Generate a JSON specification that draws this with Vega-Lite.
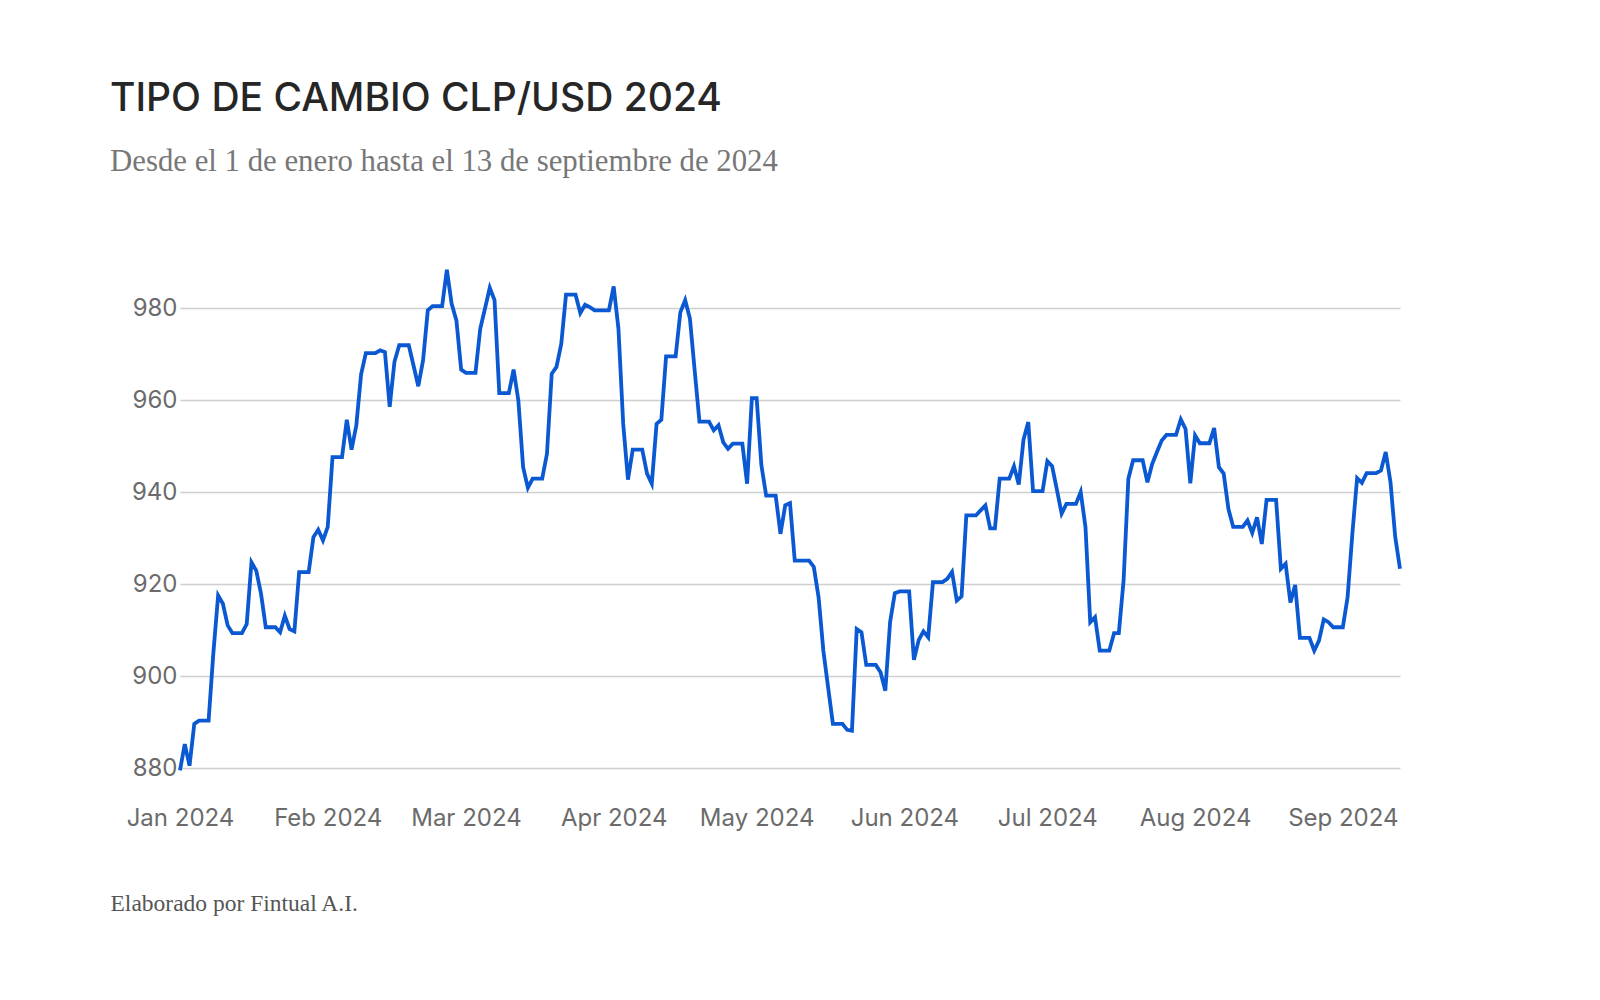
{
  "$schema": "https://vega.github.io/schema/vega-lite/v6.json",
  "width": 1220,
  "height": 506,
  "autosize": {"type": "none"},
  "padding": {"left": 180, "top": 262, "right": 200, "bottom": 232},
  "background": "#FFFFFF",
  "title": {
    "text": "TIPO DE CAMBIO CLP/USD 2024",
    "subtitle": "Desde el 1 de enero hasta el 13 de septiembre de 2024",
    "anchor": "start",
    "frame": "group",
    "dx": -70,
    "offset": 85,
    "font": "Inter",
    "fontSize": 39,
    "fontWeight": 500,
    "color": "#262626",
    "subtitleFont": "Liberation Serif",
    "subtitleFontSize": 30.8,
    "subtitleColor": "#777777",
    "subtitlePadding": 28
  },
  "data": {
    "values": [
      {"date": "2024-01-01", "rate": 879.5}, {"date": "2024-01-02", "rate": 885.2}, {"date": "2024-01-03", "rate": 880.5},
      {"date": "2024-01-04", "rate": 889.6}, {"date": "2024-01-05", "rate": 890.3}, {"date": "2024-01-06", "rate": 890.3},
      {"date": "2024-01-07", "rate": 890.3}, {"date": "2024-01-08", "rate": 905.0}, {"date": "2024-01-09", "rate": 917.5},
      {"date": "2024-01-10", "rate": 915.7}, {"date": "2024-01-11", "rate": 911.0}, {"date": "2024-01-12", "rate": 909.3},
      {"date": "2024-01-13", "rate": 909.3}, {"date": "2024-01-14", "rate": 909.3}, {"date": "2024-01-15", "rate": 911.3},
      {"date": "2024-01-16", "rate": 924.7}, {"date": "2024-01-17", "rate": 922.9}, {"date": "2024-01-18", "rate": 917.9},
      {"date": "2024-01-19", "rate": 910.6}, {"date": "2024-01-20", "rate": 910.6}, {"date": "2024-01-21", "rate": 910.6},
      {"date": "2024-01-22", "rate": 909.5}, {"date": "2024-01-23", "rate": 913.1}, {"date": "2024-01-24", "rate": 910.2},
      {"date": "2024-01-25", "rate": 909.7}, {"date": "2024-01-26", "rate": 922.6}, {"date": "2024-01-27", "rate": 922.6},
      {"date": "2024-01-28", "rate": 922.6}, {"date": "2024-01-29", "rate": 930.2}, {"date": "2024-01-30", "rate": 931.8},
      {"date": "2024-01-31", "rate": 929.5},
      {"date": "2024-02-01", "rate": 932.4}, {"date": "2024-02-02", "rate": 947.6}, {"date": "2024-02-03", "rate": 947.6},
      {"date": "2024-02-04", "rate": 947.6}, {"date": "2024-02-05", "rate": 955.7}, {"date": "2024-02-06", "rate": 949.2},
      {"date": "2024-02-07", "rate": 954.5}, {"date": "2024-02-08", "rate": 965.6}, {"date": "2024-02-09", "rate": 970.2},
      {"date": "2024-02-10", "rate": 970.2}, {"date": "2024-02-11", "rate": 970.2}, {"date": "2024-02-12", "rate": 970.8},
      {"date": "2024-02-13", "rate": 970.4}, {"date": "2024-02-14", "rate": 958.5}, {"date": "2024-02-15", "rate": 968.3},
      {"date": "2024-02-16", "rate": 971.9}, {"date": "2024-02-17", "rate": 971.9}, {"date": "2024-02-18", "rate": 971.9},
      {"date": "2024-02-19", "rate": 967.5}, {"date": "2024-02-20", "rate": 963.0}, {"date": "2024-02-21", "rate": 968.6},
      {"date": "2024-02-22", "rate": 979.5}, {"date": "2024-02-23", "rate": 980.4}, {"date": "2024-02-24", "rate": 980.4},
      {"date": "2024-02-25", "rate": 980.4}, {"date": "2024-02-26", "rate": 988.3}, {"date": "2024-02-27", "rate": 980.9},
      {"date": "2024-02-28", "rate": 977.3}, {"date": "2024-02-29", "rate": 966.6},
      {"date": "2024-03-01", "rate": 965.9}, {"date": "2024-03-02", "rate": 965.9}, {"date": "2024-03-03", "rate": 965.9},
      {"date": "2024-03-04", "rate": 975.5}, {"date": "2024-03-05", "rate": 979.9}, {"date": "2024-03-06", "rate": 984.4},
      {"date": "2024-03-07", "rate": 981.7}, {"date": "2024-03-08", "rate": 961.5}, {"date": "2024-03-09", "rate": 961.5},
      {"date": "2024-03-10", "rate": 961.5}, {"date": "2024-03-11", "rate": 966.6}, {"date": "2024-03-12", "rate": 959.9},
      {"date": "2024-03-13", "rate": 945.4}, {"date": "2024-03-14", "rate": 940.9}, {"date": "2024-03-15", "rate": 942.9},
      {"date": "2024-03-16", "rate": 942.9}, {"date": "2024-03-17", "rate": 942.9}, {"date": "2024-03-18", "rate": 948.3},
      {"date": "2024-03-19", "rate": 965.7}, {"date": "2024-03-20", "rate": 967.2}, {"date": "2024-03-21", "rate": 972.2},
      {"date": "2024-03-22", "rate": 982.9}, {"date": "2024-03-23", "rate": 982.9}, {"date": "2024-03-24", "rate": 982.9},
      {"date": "2024-03-25", "rate": 978.9}, {"date": "2024-03-26", "rate": 980.7}, {"date": "2024-03-27", "rate": 980.2},
      {"date": "2024-03-28", "rate": 979.5}, {"date": "2024-03-29", "rate": 979.5}, {"date": "2024-03-30", "rate": 979.5},
      {"date": "2024-03-31", "rate": 979.5},
      {"date": "2024-04-01", "rate": 984.7}, {"date": "2024-04-02", "rate": 975.5}, {"date": "2024-04-03", "rate": 954.8},
      {"date": "2024-04-04", "rate": 942.7}, {"date": "2024-04-05", "rate": 949.2}, {"date": "2024-04-06", "rate": 949.2},
      {"date": "2024-04-07", "rate": 949.2}, {"date": "2024-04-08", "rate": 944.0}, {"date": "2024-04-09", "rate": 941.8},
      {"date": "2024-04-10", "rate": 954.8}, {"date": "2024-04-11", "rate": 955.7}, {"date": "2024-04-12", "rate": 969.5},
      {"date": "2024-04-13", "rate": 969.5}, {"date": "2024-04-14", "rate": 969.5}, {"date": "2024-04-15", "rate": 979.1},
      {"date": "2024-04-16", "rate": 981.7}, {"date": "2024-04-17", "rate": 977.7}, {"date": "2024-04-18", "rate": 966.4},
      {"date": "2024-04-19", "rate": 955.3}, {"date": "2024-04-20", "rate": 955.3}, {"date": "2024-04-21", "rate": 955.3},
      {"date": "2024-04-22", "rate": 953.4}, {"date": "2024-04-23", "rate": 954.5}, {"date": "2024-04-24", "rate": 950.8},
      {"date": "2024-04-25", "rate": 949.4}, {"date": "2024-04-26", "rate": 950.5}, {"date": "2024-04-27", "rate": 950.5},
      {"date": "2024-04-28", "rate": 950.5}, {"date": "2024-04-29", "rate": 941.8}, {"date": "2024-04-30", "rate": 960.4},
      {"date": "2024-05-01", "rate": 960.4}, {"date": "2024-05-02", "rate": 945.8}, {"date": "2024-05-03", "rate": 939.2},
      {"date": "2024-05-04", "rate": 939.2}, {"date": "2024-05-05", "rate": 939.2}, {"date": "2024-05-06", "rate": 930.9},
      {"date": "2024-05-07", "rate": 937.1}, {"date": "2024-05-08", "rate": 937.6}, {"date": "2024-05-09", "rate": 925.1},
      {"date": "2024-05-10", "rate": 925.1}, {"date": "2024-05-11", "rate": 925.1}, {"date": "2024-05-12", "rate": 925.1},
      {"date": "2024-05-13", "rate": 923.7}, {"date": "2024-05-14", "rate": 917.1}, {"date": "2024-05-15", "rate": 905.5},
      {"date": "2024-05-16", "rate": 897.5}, {"date": "2024-05-17", "rate": 889.6}, {"date": "2024-05-18", "rate": 889.6},
      {"date": "2024-05-19", "rate": 889.6}, {"date": "2024-05-20", "rate": 888.3}, {"date": "2024-05-21", "rate": 888.1},
      {"date": "2024-05-22", "rate": 910.2}, {"date": "2024-05-23", "rate": 909.5}, {"date": "2024-05-24", "rate": 902.4},
      {"date": "2024-05-25", "rate": 902.4}, {"date": "2024-05-26", "rate": 902.4}, {"date": "2024-05-27", "rate": 900.8},
      {"date": "2024-05-28", "rate": 896.8}, {"date": "2024-05-29", "rate": 911.7}, {"date": "2024-05-30", "rate": 918.0},
      {"date": "2024-05-31", "rate": 918.4},
      {"date": "2024-06-01", "rate": 918.4}, {"date": "2024-06-02", "rate": 918.4}, {"date": "2024-06-03", "rate": 903.5},
      {"date": "2024-06-04", "rate": 907.8}, {"date": "2024-06-05", "rate": 909.7}, {"date": "2024-06-06", "rate": 908.4},
      {"date": "2024-06-07", "rate": 920.4}, {"date": "2024-06-08", "rate": 920.4}, {"date": "2024-06-09", "rate": 920.4},
      {"date": "2024-06-10", "rate": 921.1}, {"date": "2024-06-11", "rate": 922.6}, {"date": "2024-06-12", "rate": 916.4},
      {"date": "2024-06-13", "rate": 917.3}, {"date": "2024-06-14", "rate": 934.9}, {"date": "2024-06-15", "rate": 934.9},
      {"date": "2024-06-16", "rate": 934.9}, {"date": "2024-06-17", "rate": 936.0}, {"date": "2024-06-18", "rate": 937.1},
      {"date": "2024-06-19", "rate": 932.1}, {"date": "2024-06-20", "rate": 932.1}, {"date": "2024-06-21", "rate": 942.9},
      {"date": "2024-06-22", "rate": 942.9}, {"date": "2024-06-23", "rate": 942.9}, {"date": "2024-06-24", "rate": 945.6},
      {"date": "2024-06-25", "rate": 941.6}, {"date": "2024-06-26", "rate": 951.4}, {"date": "2024-06-27", "rate": 955.2},
      {"date": "2024-06-28", "rate": 940.2}, {"date": "2024-06-29", "rate": 940.2}, {"date": "2024-06-30", "rate": 940.2},
      {"date": "2024-07-01", "rate": 946.7}, {"date": "2024-07-02", "rate": 945.6}, {"date": "2024-07-03", "rate": 940.5},
      {"date": "2024-07-04", "rate": 935.3}, {"date": "2024-07-05", "rate": 937.4}, {"date": "2024-07-06", "rate": 937.4},
      {"date": "2024-07-07", "rate": 937.4}, {"date": "2024-07-08", "rate": 940.0}, {"date": "2024-07-09", "rate": 932.4},
      {"date": "2024-07-10", "rate": 911.7}, {"date": "2024-07-11", "rate": 912.8}, {"date": "2024-07-12", "rate": 905.5},
      {"date": "2024-07-13", "rate": 905.5}, {"date": "2024-07-14", "rate": 905.5}, {"date": "2024-07-15", "rate": 909.3},
      {"date": "2024-07-16", "rate": 909.3}, {"date": "2024-07-17", "rate": 920.8}, {"date": "2024-07-18", "rate": 942.9},
      {"date": "2024-07-19", "rate": 946.9}, {"date": "2024-07-20", "rate": 946.9}, {"date": "2024-07-21", "rate": 946.9},
      {"date": "2024-07-22", "rate": 942.1}, {"date": "2024-07-23", "rate": 946.1}, {"date": "2024-07-24", "rate": 948.7},
      {"date": "2024-07-25", "rate": 951.2}, {"date": "2024-07-26", "rate": 952.4}, {"date": "2024-07-27", "rate": 952.4},
      {"date": "2024-07-28", "rate": 952.4}, {"date": "2024-07-29", "rate": 955.8}, {"date": "2024-07-30", "rate": 953.7},
      {"date": "2024-07-31", "rate": 941.9},
      {"date": "2024-08-01", "rate": 952.3}, {"date": "2024-08-02", "rate": 950.6}, {"date": "2024-08-03", "rate": 950.6},
      {"date": "2024-08-04", "rate": 950.6}, {"date": "2024-08-05", "rate": 953.9}, {"date": "2024-08-06", "rate": 945.4},
      {"date": "2024-08-07", "rate": 944.0}, {"date": "2024-08-08", "rate": 936.3}, {"date": "2024-08-09", "rate": 932.4},
      {"date": "2024-08-10", "rate": 932.4}, {"date": "2024-08-11", "rate": 932.4}, {"date": "2024-08-12", "rate": 933.8},
      {"date": "2024-08-13", "rate": 931.1}, {"date": "2024-08-14", "rate": 934.5}, {"date": "2024-08-15", "rate": 928.7},
      {"date": "2024-08-16", "rate": 938.3}, {"date": "2024-08-17", "rate": 938.3}, {"date": "2024-08-18", "rate": 938.3},
      {"date": "2024-08-19", "rate": 923.3}, {"date": "2024-08-20", "rate": 924.4}, {"date": "2024-08-21", "rate": 916.0},
      {"date": "2024-08-22", "rate": 919.8}, {"date": "2024-08-23", "rate": 908.3}, {"date": "2024-08-24", "rate": 908.3},
      {"date": "2024-08-25", "rate": 908.3}, {"date": "2024-08-26", "rate": 905.5}, {"date": "2024-08-27", "rate": 907.7},
      {"date": "2024-08-28", "rate": 912.3}, {"date": "2024-08-29", "rate": 911.7}, {"date": "2024-08-30", "rate": 910.6},
      {"date": "2024-08-31", "rate": 910.6},
      {"date": "2024-09-01", "rate": 910.6}, {"date": "2024-09-02", "rate": 917.1}, {"date": "2024-09-03", "rate": 930.9},
      {"date": "2024-09-04", "rate": 943.0}, {"date": "2024-09-05", "rate": 942.0}, {"date": "2024-09-06", "rate": 944.1},
      {"date": "2024-09-07", "rate": 944.1}, {"date": "2024-09-08", "rate": 944.1}, {"date": "2024-09-09", "rate": 944.7},
      {"date": "2024-09-10", "rate": 948.7}, {"date": "2024-09-11", "rate": 942.2}, {"date": "2024-09-12", "rate": 930.2},
      {"date": "2024-09-13", "rate": 923.3}
    ]
  },
  "mark": {"type": "line", "color": "#0A58D2", "strokeWidth": 3.8, "strokeJoin": "miter", "clip": false},
  "encoding": {
    "x": {
      "field": "date",
      "type": "temporal",
      "scale": {"type": "utc", "domain": ["2024-01-01", "2024-09-13"]},
      "axis": {
        "title": "Elaborado por Fintual A.I.",
        "titleFont": "Liberation Serif",
        "titleFontSize": 23.5,
        "titleFontWeight": "normal",
        "titleColor": "#555555",
        "titleAnchor": "start",
        "titleAlign": "left",
        "titleBaseline": "alphabetic",
        "titleX": -70,
        "titleY": 142,
        "format": "%b %Y",
        "tickCount": {"interval": "month", "step": 1},
        "labelFont": "Inter",
        "labelFontSize": 24,
        "labelColor": "#6B6B6B",
        "labelPadding": 38,
        "labelOverlap": false,
        "labelFlush": false,
        "ticks": false,
        "domain": false,
        "grid": false
      }
    },
    "y": {
      "field": "rate",
      "type": "quantitative",
      "scale": {"domain": [880, 990], "nice": false, "zero": false},
      "axis": {
        "title": null,
        "values": [880, 900, 920, 940, 960, 980],
        "labelFont": "Inter",
        "labelFontSize": 24,
        "labelColor": "#6B6B6B",
        "labelPadding": 3,
        "ticks": false,
        "domain": false,
        "grid": true,
        "gridColor": "#CFCFCF",
        "gridWidth": 1.5
      }
    }
  },
  "config": {"view": {"stroke": null}}
}
